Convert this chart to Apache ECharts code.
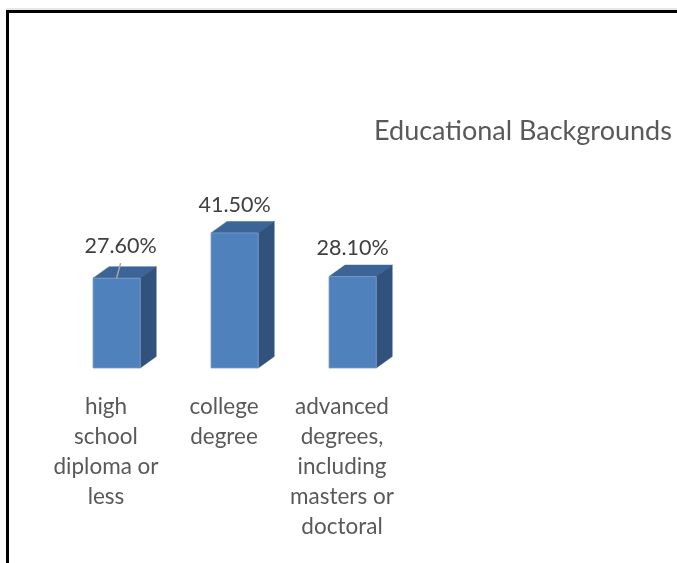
<!DOCTYPE html>
<html>
<head>
<meta charset="utf-8">
<script src="https://cdn.jsdelivr.net/npm/echarts@6/dist/echarts.min.js"></script>
<style>
  html, body { margin: 0; padding: 0; background: #fff; }
  #chart { width: 677px; height: 563px; }
</style>
</head>
<body>
<div id="chart"></div>
<script>
// Share of respondents by highest level of education
const categories = [
  'high\nschool\ndiploma or\nless',
  'college\ndegree',
  'advanced\ndegrees,\nincluding\nmasters or\ndoctoral'
];
const shares = [27.6, 41.5, 28.1];
const chartTitle = 'Educational Backgrounds';

const FONT = 'Lato, "Liberation Sans", sans-serif';
const FACE_FRONT = '#4f81bd';
const FACE_TOP = '#3c6496';
const FACE_SIDE = '#31527c';
const DEPTH_X = 16;
const DEPTH_Y = 11.5;
// the first value label sits a little off its bar, joined by a leader line
const LABEL_NUDGE = { 0: [4, -4] };

const chart = echarts.init(document.getElementById('chart'), null, { renderer: 'canvas' });

function renderBar3D(params, api) {
  const i = params.dataIndex;
  const v = api.value(1);
  const base = api.coord([api.value(0), 0]);
  const top = api.coord([api.value(0), v]);
  const band = api.size([1, 0])[0];
  const w = band * 0.4;
  const cx = base[0] + band * 0.09;
  const x0 = cx - w / 2, x1 = cx + w / 2;
  const yb = base[1], yt = top[1];

  const children = [
    { // top face
      type: 'polygon',
      shape: { points: [[x0, yt], [x1, yt], [x1 + DEPTH_X, yt - DEPTH_Y], [x0 + DEPTH_X, yt - DEPTH_Y]] },
      style: { fill: FACE_TOP, stroke: FACE_TOP, lineWidth: 0.5 }
    },
    { // side face
      type: 'polygon',
      shape: { points: [[x1, yt], [x1 + DEPTH_X, yt - DEPTH_Y], [x1 + DEPTH_X, yb - DEPTH_Y], [x1, yb]] },
      style: { fill: FACE_SIDE, stroke: FACE_SIDE, lineWidth: 0.5 }
    },
    { // front face
      type: 'rect',
      shape: { x: x0, y: yt, width: w, height: yb - yt },
      style: { fill: FACE_FRONT, stroke: '#7d9bc4', lineWidth: 0.8 }
    }
  ];

  const nudge = LABEL_NUDGE[i] || [0, 0];
  const lx = cx + nudge[0];
  const ly = yt - 28 + nudge[1];
  if (LABEL_NUDGE[i]) {
    children.push({
      type: 'line',
      shape: { x1: lx, y1: ly + 17, x2: cx, y2: yt },
      style: { stroke: '#a6a6a6', lineWidth: 1.5 }
    });
  }
  children.push({
    type: 'text',
    style: {
      text: v.toFixed(2) + '%',
      x: lx, y: ly,
      align: 'center', verticalAlign: 'middle',
      fontFamily: FONT, fontSize: 21.5, fill: '#404040'
    }
  });
  return { type: 'group', children };
}

chart.setOption({
  backgroundColor: '#ffffff',
  animation: false,
  title: {
    text: chartTitle,
    left: 369,
    top: 111,
    textStyle: { fontFamily: FONT, fontSize: 27, fontWeight: 'normal', color: '#595959', lineHeight: 30 }
  },
  grid: { left: 47, right: 276, top: 205.25, bottom: 195, containLabel: false },
  xAxis: {
    type: 'category',
    data: categories,
    axisLine: { show: false },
    axisTick: { show: false },
    splitLine: { show: false },
    axisLabel: {
      interval: 0,
      margin: 24,
      fontFamily: FONT,
      fontSize: 22.5,
      lineHeight: 30,
      color: '#595959',
      align: 'center',
      verticalAlign: 'top'
    }
  },
  yAxis: { type: 'value', min: 0, max: 50, show: false, splitLine: { show: false } },
  series: [{
    type: 'custom',
    renderItem: renderBar3D,
    encode: { x: 0, y: 1 },
    data: shares.map((v, i) => [i, v]),
    clip: false,
    z: 2
  }],
  graphic: [
    {
      type: 'line',
      shape: { x1: 6, y1: 9, x2: 690, y2: 9 },
      style: { stroke: '#cfcfcf', lineWidth: 1 },
      silent: true
    },
    {
      type: 'rect',
      shape: { x: 7.5, y: 11.5, width: 700, height: 600 },
      style: { fill: 'none', stroke: '#000000', lineWidth: 3 },
      silent: true
    }
  ]
});
</script>
</body>
</html>
